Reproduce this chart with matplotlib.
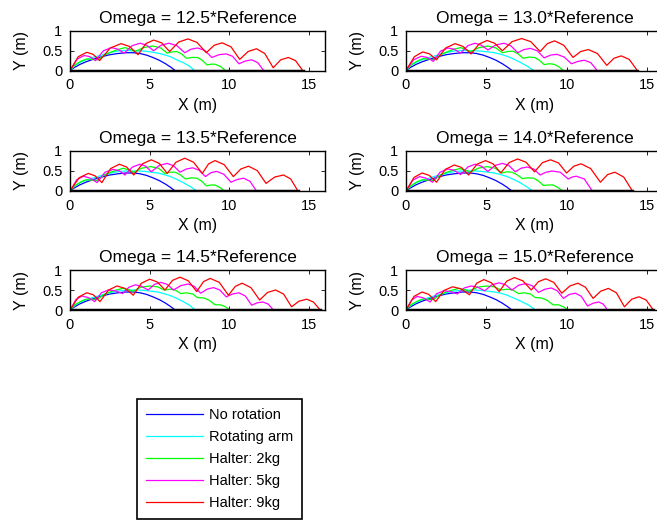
import matplotlib
matplotlib.use('Agg')
import matplotlib.pyplot as plt

plt.rcParams['font.family'] = ['Liberation Sans', 'DejaVu Sans']

omegas = ['12.5', '13.0', '13.5', '14.0', '14.5', '15.0']
series_names = ['No rotation', 'Rotating arm', 'Halter: 2kg', 'Halter: 5kg', 'Halter: 9kg']
colors = ['#0000ff', '#00ffff', '#00ff00', '#ff00ff', '#ff0000']
x_ticks = [0, 5, 10, 15]
y_ticks = [0, 0.5, 1]
y_tick_labels = ['0', '0.5', '1']

# no rotation does not depend on omega: same curve in every panel
blue_x = [0, 0.25, 0.6, 1.0, 1.5, 2.0, 2.5, 3.0, 3.5, 4.0, 4.4, 4.8, 5.2, 5.6, 6.0, 6.3, 6.6]
blue_y = [0, 0.07, 0.15, 0.22, 0.29, 0.35, 0.4, 0.43, 0.45, 0.45, 0.43, 0.39, 0.33, 0.26, 0.17, 0.09, 0]

cyan_x = [
    [0, 0.3, 0.7, 1.1, 1.5, 1.9, 2.3, 2.7, 3.1, 3.5, 3.9, 4.3, 4.7, 5.1, 5.5, 5.9, 6.3, 6.7, 7.1, 7.5, 7.8],
    [0, 0.3, 0.7, 1.1, 1.5, 1.9, 2.3, 2.7, 3.1, 3.5, 3.9, 4.3, 4.7, 5.1, 5.5, 5.9, 6.3, 6.7, 7.1, 7.55, 7.95],
    [0, 0.3, 0.7, 1.1, 1.5, 1.9, 2.3, 2.7, 3.1, 3.5, 3.9, 4.3, 4.7, 5.1, 5.5, 5.9, 6.3, 6.7, 7.1, 7.55, 7.95],
    [0, 0.3, 0.7, 1.1, 1.5, 1.9, 2.3, 2.7, 3.1, 3.5, 3.9, 4.3, 4.7, 5.1, 5.5, 5.9, 6.3, 6.7, 7.1, 7.5, 7.9],
    [0, 0.3, 0.7, 1.1, 1.5, 1.9, 2.3, 2.7, 3.1, 3.5, 3.9, 4.3, 4.7, 5.1, 5.5, 5.9, 6.3, 6.7, 7.1, 7.5, 7.85],
    [0, 0.3, 0.7, 1.1, 1.5, 1.9, 2.3, 2.7, 3.1, 3.5, 3.9, 4.3, 4.7, 5.1, 5.5, 5.9, 6.3, 6.7, 7.2, 7.65, 8.05],
]
cyan_y = [
    [0, 0.13, 0.22, 0.29, 0.34, 0.38, 0.43, 0.47, 0.5, 0.51, 0.5, 0.5, 0.49, 0.47, 0.44, 0.4, 0.35, 0.27, 0.2, 0.11, 0],
    [0, 0.13, 0.22, 0.29, 0.34, 0.38, 0.43, 0.47, 0.5, 0.51, 0.5, 0.5, 0.49, 0.47, 0.45, 0.41, 0.36, 0.29, 0.21, 0.11, 0],
    [0, 0.13, 0.22, 0.28, 0.33, 0.38, 0.42, 0.46, 0.49, 0.5, 0.5, 0.5, 0.49, 0.47, 0.45, 0.41, 0.36, 0.29, 0.21, 0.11, 0],
    [0, 0.13, 0.22, 0.28, 0.33, 0.38, 0.42, 0.46, 0.49, 0.5, 0.5, 0.5, 0.49, 0.47, 0.45, 0.41, 0.36, 0.29, 0.21, 0.11, 0],
    [0, 0.12, 0.21, 0.27, 0.32, 0.37, 0.41, 0.45, 0.48, 0.49, 0.5, 0.5, 0.49, 0.47, 0.45, 0.41, 0.36, 0.29, 0.21, 0.12, 0],
    [0, 0.12, 0.21, 0.27, 0.32, 0.37, 0.41, 0.45, 0.48, 0.49, 0.5, 0.5, 0.49, 0.47, 0.45, 0.42, 0.37, 0.3, 0.21, 0.12, 0],
]

green_x = [
    [0, 0.3, 0.7, 1.05, 1.4, 1.75, 2.2, 2.6, 3.0, 3.45, 3.8, 4.1, 4.6, 5.2, 5.7, 6.1, 6.4, 6.7, 7.0, 7.3, 7.65, 8.0, 8.3, 8.6, 8.85, 9.1, 9.45, 9.75],
    [0, 0.3, 0.7, 1.05, 1.4, 1.75, 2.2, 2.6, 3.0, 3.4, 3.75, 4.05, 4.55, 5.1, 5.6, 6.0, 6.35, 6.65, 6.95, 7.3, 7.65, 8.0, 8.3, 8.6, 8.9, 9.2, 9.5, 9.8],
    [0, 0.3, 0.7, 1.0, 1.35, 1.7, 2.15, 2.55, 2.95, 3.35, 3.7, 4.0, 4.5, 5.05, 5.55, 5.95, 6.3, 6.6, 6.9, 7.25, 7.6, 7.95, 8.25, 8.55, 8.85, 9.1, 9.4, 9.7],
    [0, 0.3, 0.7, 1.0, 1.35, 1.7, 2.15, 2.55, 2.95, 3.35, 3.7, 4.0, 4.5, 5.05, 5.55, 5.95, 6.3, 6.6, 6.9, 7.25, 7.6, 7.95, 8.25, 8.55, 8.85, 9.15, 9.45, 9.75],
    [0, 0.3, 0.7, 1.0, 1.35, 1.7, 2.1, 2.5, 2.9, 3.3, 3.65, 3.95, 4.45, 5.0, 5.5, 5.9, 6.3, 6.6, 6.95, 7.3, 7.7, 8.0, 8.4, 8.75, 9.1, 9.45, 9.75, 10.04],
    [0, 0.3, 0.7, 1.0, 1.35, 1.7, 2.1, 2.5, 2.9, 3.3, 3.65, 3.95, 4.45, 5.0, 5.5, 5.9, 6.3, 6.65, 7.0, 7.35, 7.75, 8.05, 8.45, 8.8, 9.15, 9.5, 9.8, 10.1],
]
green_y = [
    [0, 0.14, 0.24, 0.29, 0.28, 0.27, 0.4, 0.47, 0.53, 0.58, 0.53, 0.48, 0.58, 0.62, 0.57, 0.44, 0.47, 0.48, 0.42, 0.31, 0.33, 0.33, 0.26, 0.14, 0.16, 0.16, 0.1, 0],
    [0, 0.14, 0.24, 0.3, 0.29, 0.27, 0.41, 0.48, 0.54, 0.58, 0.53, 0.48, 0.58, 0.62, 0.57, 0.45, 0.48, 0.49, 0.43, 0.31, 0.34, 0.33, 0.26, 0.15, 0.17, 0.16, 0.1, 0],
    [0, 0.13, 0.23, 0.28, 0.27, 0.26, 0.4, 0.47, 0.52, 0.57, 0.52, 0.47, 0.57, 0.61, 0.57, 0.44, 0.47, 0.47, 0.41, 0.3, 0.33, 0.32, 0.25, 0.13, 0.15, 0.15, 0.09, 0],
    [0, 0.13, 0.23, 0.28, 0.27, 0.26, 0.4, 0.47, 0.52, 0.56, 0.52, 0.47, 0.57, 0.61, 0.57, 0.45, 0.48, 0.47, 0.41, 0.31, 0.33, 0.32, 0.25, 0.14, 0.15, 0.15, 0.09, 0],
    [0, 0.13, 0.22, 0.27, 0.27, 0.26, 0.38, 0.45, 0.5, 0.54, 0.51, 0.47, 0.57, 0.6, 0.58, 0.5, 0.52, 0.5, 0.41, 0.43, 0.4, 0.31, 0.3, 0.24, 0.13, 0.13, 0.08, 0],
    [0, 0.13, 0.22, 0.27, 0.27, 0.26, 0.38, 0.45, 0.5, 0.54, 0.51, 0.47, 0.57, 0.6, 0.58, 0.5, 0.52, 0.5, 0.41, 0.43, 0.4, 0.31, 0.3, 0.24, 0.13, 0.13, 0.08, 0],
]

magenta_x = [
    [0, 0.45, 0.9, 1.25, 1.6, 2.1, 2.6, 3.0, 3.4, 3.9, 4.4, 4.82, 5.25, 5.72, 6.2, 6.7, 7.2, 7.6, 8.0, 8.45, 8.9, 9.35, 9.8, 10.2, 10.6, 11.0, 11.4, 11.78, 12.15],
    [0, 0.47, 0.95, 1.32, 1.7, 2.15, 2.6, 3.0, 3.4, 3.85, 4.3, 4.7, 5.1, 5.6, 6.1, 6.52, 6.95, 7.35, 7.75, 8.17, 8.6, 9.0, 9.4, 9.85, 10.3, 10.7, 11.1, 11.5, 11.9],
    [0, 0.42, 0.85, 1.27, 1.7, 2.2, 2.7, 3.07, 3.45, 3.92, 4.4, 4.75, 5.1, 5.6, 6.1, 6.5, 6.9, 7.3, 7.7, 8.1, 8.5, 8.85, 9.2, 9.65, 10.1, 10.5, 10.9, 11.3, 11.7],
    [0, 0.42, 0.85, 1.25, 1.65, 2.12, 2.6, 3.0, 3.4, 3.85, 4.3, 4.7, 5.1, 5.55, 6.0, 6.4, 6.8, 7.17, 7.55, 7.95, 8.35, 8.72, 9.1, 9.6, 10.1, 10.35, 10.6, 11.1, 11.6],
    [0, 0.37, 0.75, 1.15, 1.55, 1.97, 2.4, 2.85, 3.3, 3.7, 4.1, 4.5, 4.9, 5.3, 5.7, 6.1, 6.5, 6.95, 7.4, 7.8, 8.2, 8.6, 9.0, 9.4, 9.8, 10.2, 10.6, 11.0, 11.4, 11.75, 12.1, 12.43, 12.76],
    [0, 0.35, 0.7, 1.1, 1.5, 1.92, 2.35, 2.77, 3.2, 3.62, 4.05, 4.47, 4.9, 5.35, 5.8, 6.2, 6.6, 7.02, 7.45, 7.85, 8.25, 8.65, 9.05, 9.42, 9.8, 10.17, 10.55, 10.92, 11.3, 11.65, 12.0, 12.27, 12.55],
]
magenta_y = [
    [0, 0.29, 0.38, 0.35, 0.25, 0.5, 0.58, 0.54, 0.44, 0.63, 0.69, 0.64, 0.5, 0.64, 0.69, 0.63, 0.45, 0.54, 0.57, 0.51, 0.33, 0.4, 0.42, 0.36, 0.17, 0.24, 0.27, 0.2, 0],
    [0, 0.27, 0.36, 0.33, 0.23, 0.49, 0.57, 0.54, 0.44, 0.63, 0.69, 0.64, 0.52, 0.65, 0.69, 0.63, 0.45, 0.53, 0.56, 0.5, 0.32, 0.39, 0.41, 0.34, 0.17, 0.23, 0.26, 0.2, 0],
    [0, 0.28, 0.37, 0.32, 0.21, 0.47, 0.54, 0.51, 0.4, 0.6, 0.67, 0.62, 0.48, 0.64, 0.69, 0.63, 0.47, 0.55, 0.58, 0.52, 0.36, 0.46, 0.49, 0.42, 0.22, 0.29, 0.32, 0.24, 0],
    [0, 0.27, 0.36, 0.32, 0.22, 0.47, 0.55, 0.52, 0.41, 0.6, 0.67, 0.62, 0.49, 0.64, 0.69, 0.64, 0.48, 0.57, 0.6, 0.55, 0.4, 0.47, 0.5, 0.47, 0.3, 0.35, 0.37, 0.3, 0],
    [0, 0.26, 0.35, 0.31, 0.21, 0.43, 0.5, 0.48, 0.41, 0.57, 0.63, 0.59, 0.5, 0.64, 0.69, 0.64, 0.5, 0.61, 0.65, 0.59, 0.42, 0.52, 0.56, 0.5, 0.33, 0.4, 0.43, 0.35, 0.12, 0.18, 0.2, 0.15, 0],
    [0, 0.25, 0.34, 0.3, 0.2, 0.41, 0.48, 0.46, 0.4, 0.55, 0.6, 0.57, 0.48, 0.63, 0.68, 0.63, 0.5, 0.62, 0.66, 0.61, 0.44, 0.52, 0.55, 0.48, 0.29, 0.39, 0.42, 0.34, 0.1, 0.17, 0.2, 0.15, 0],
]

red_x = [
    [0, 0.52, 1.05, 1.45, 1.86, 2.53, 3.2, 3.73, 4.27, 4.76, 5.25, 5.75, 6.25, 6.82, 7.4, 7.97, 8.55, 9.05, 9.55, 10.1, 10.65, 11.17, 11.7, 12.22, 12.75, 13.22, 13.7, 14.15, 14.6],
    [0, 0.52, 1.04, 1.47, 1.9, 2.47, 3.05, 3.55, 4.05, 4.55, 5.05, 5.52, 6.0, 6.6, 7.2, 7.77, 8.35, 8.8, 9.25, 9.82, 10.4, 10.87, 11.35, 11.92, 12.5, 12.95, 13.4, 13.9, 14.4],
    [0, 0.57, 1.15, 1.57, 2.0, 2.55, 3.1, 3.55, 4.0, 4.55, 5.1, 5.6, 6.1, 6.65, 7.2, 7.75, 8.3, 8.7, 9.1, 9.67, 10.25, 10.72, 11.2, 11.75, 12.3, 12.85, 13.4, 13.85, 14.3],
    [0, 0.5, 1.0, 1.45, 1.9, 2.45, 3.0, 3.45, 3.9, 4.42, 4.95, 5.42, 5.9, 6.42, 6.95, 7.47, 8.0, 8.5, 9.0, 9.5, 10.0, 10.45, 10.9, 11.5, 12.1, 12.55, 13.0, 13.55, 14.1],
    [0, 0.52, 1.05, 1.47, 1.88, 2.42, 2.95, 3.46, 3.97, 4.48, 5.0, 5.48, 5.96, 6.43, 6.9, 7.42, 7.95, 8.38, 8.8, 9.37, 9.94, 10.37, 10.8, 11.35, 11.9, 12.4, 12.9, 13.4, 13.9, 14.37, 14.85, 15.27, 15.7],
    [0, 0.5, 1.0, 1.42, 1.85, 2.37, 2.9, 3.42, 3.95, 4.4, 4.85, 5.32, 5.8, 6.27, 6.75, 7.27, 7.8, 8.25, 8.7, 9.2, 9.7, 10.2, 10.7, 11.17, 11.65, 12.12, 12.6, 13.1, 13.6, 14.05, 14.5, 14.95, 15.4],
]
red_y = [
    [0, 0.35, 0.46, 0.41, 0.25, 0.57, 0.68, 0.61, 0.4, 0.68, 0.77, 0.7, 0.48, 0.72, 0.8, 0.71, 0.45, 0.64, 0.7, 0.6, 0.28, 0.48, 0.55, 0.43, 0.07, 0.27, 0.33, 0.25, 0],
    [0, 0.35, 0.47, 0.42, 0.27, 0.57, 0.68, 0.61, 0.42, 0.67, 0.76, 0.69, 0.5, 0.73, 0.81, 0.73, 0.48, 0.68, 0.75, 0.64, 0.33, 0.48, 0.53, 0.43, 0.13, 0.31, 0.37, 0.28, 0],
    [0, 0.33, 0.44, 0.38, 0.21, 0.56, 0.67, 0.6, 0.4, 0.68, 0.78, 0.69, 0.44, 0.72, 0.82, 0.72, 0.44, 0.68, 0.76, 0.66, 0.36, 0.55, 0.62, 0.51, 0.19, 0.35, 0.4, 0.3, 0],
    [0, 0.34, 0.45, 0.39, 0.22, 0.54, 0.65, 0.59, 0.4, 0.67, 0.76, 0.68, 0.45, 0.71, 0.8, 0.72, 0.48, 0.71, 0.78, 0.7, 0.45, 0.62, 0.68, 0.56, 0.22, 0.41, 0.47, 0.35, 0],
    [0, 0.32, 0.43, 0.38, 0.21, 0.5, 0.6, 0.54, 0.37, 0.67, 0.77, 0.7, 0.5, 0.74, 0.82, 0.73, 0.46, 0.71, 0.79, 0.69, 0.37, 0.59, 0.67, 0.56, 0.25, 0.44, 0.5, 0.4, 0.08, 0.22, 0.27, 0.2, 0],
    [0, 0.34, 0.45, 0.39, 0.21, 0.49, 0.58, 0.53, 0.38, 0.67, 0.76, 0.68, 0.46, 0.72, 0.81, 0.73, 0.5, 0.71, 0.78, 0.69, 0.42, 0.6, 0.67, 0.57, 0.29, 0.47, 0.54, 0.43, 0.08, 0.27, 0.33, 0.25, 0],
]

W, H = 657, 521
fig = plt.figure(figsize=(W / 100, H / 100), dpi=100)

# axes boxes in pixels (left, top, right, bottom); right column runs past the edge
col_px = [(70, 325), (406, 663)]
row_px = [(31, 70.5), (151, 191), (270, 310)]

handles = None
for i, om in enumerate(omegas):
    r, c = divmod(i, 2)
    x0, x1 = col_px[c]
    y0, y1 = row_px[r]
    ax = fig.add_axes([x0 / W, 1 - y1 / H, (x1 - x0) / W, (y1 - y0) / H])

    hb, = ax.plot(blue_x, blue_y, color=colors[0], lw=0.9)
    hc, = ax.plot(cyan_x[i], cyan_y[i], color=colors[1], lw=0.9)
    hg, = ax.plot(green_x[i], green_y[i], color=colors[2], lw=0.9)
    hm, = ax.plot(magenta_x[i], magenta_y[i], color=colors[3], lw=0.9)
    hr, = ax.plot(red_x[i], red_y[i], color=colors[4], lw=0.9)
    ax.plot([0, red_x[i][-1]], [0, 0], color='black', lw=2.5)
    handles = [hb, hc, hg, hm, hr]

    ax.set_xlim(0, 16)
    ax.set_ylim(0, 1)
    ax.set_xticks(x_ticks)
    ax.set_yticks(y_ticks)
    ax.set_yticklabels(y_tick_labels)
    ax.tick_params(direction='in', top=True, right=True, length=3, width=0.6,
                   labelsize=10.5, pad=5.5)
    for sp in ax.spines.values():
        sp.set_linewidth(1.0)
    ax.set_title('Omega = ' + om + '*Reference', fontsize=12.5)
    ax.set_xlabel('X (m)', fontsize=11.5, labelpad=4)
    ax.set_ylabel('Y (m)', fontsize=11.5, labelpad=9)

leg = fig.legend(handles, series_names, loc='upper left',
                 bbox_to_anchor=(137 / W, 1 - 399 / H), borderaxespad=0,
                 fontsize=10.5, handlelength=3.9, handletextpad=0.45,
                 labelspacing=0.55, borderpad=0.6, fancybox=False,
                 framealpha=1, edgecolor='black')
leg.get_frame().set_linewidth(1.2)

fig.savefig('out.png', dpi=100)
